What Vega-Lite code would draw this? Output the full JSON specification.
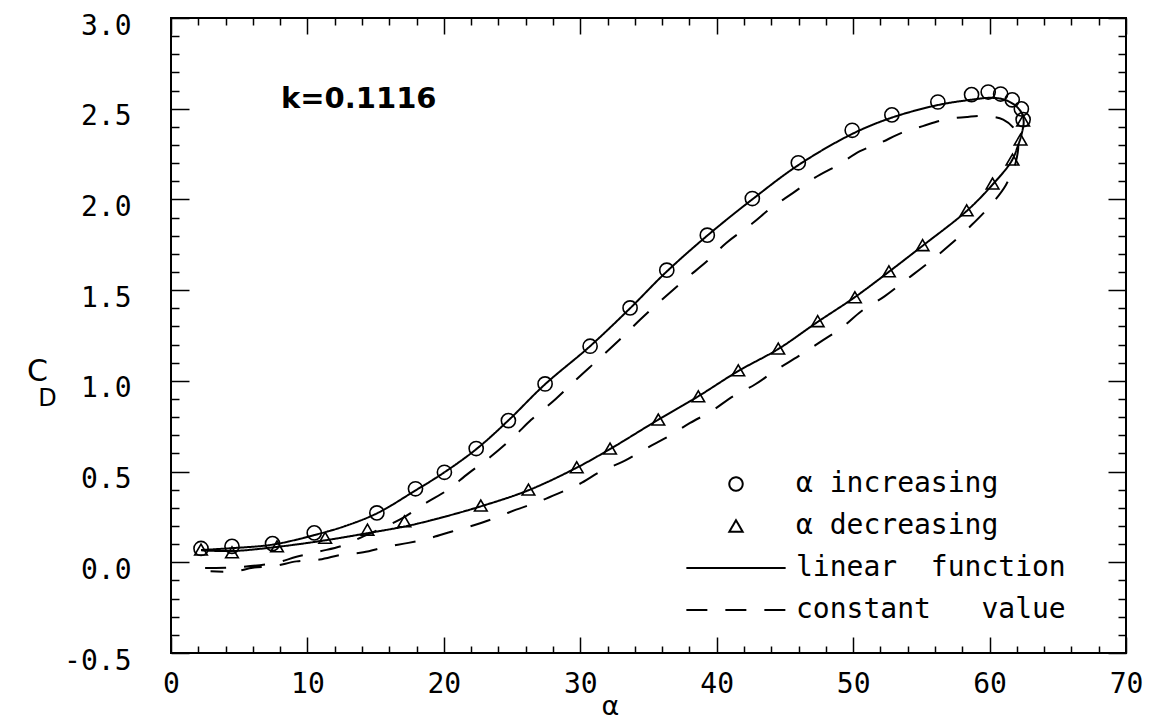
{
  "$schema": "https://vega.github.io/schema/vega-lite/v6.json",
  "width": 955,
  "height": 635,
  "autosize": {"type": "none"},
  "padding": {"left": 171, "top": 18, "right": 41, "bottom": 67},
  "background": "white",
  "config": {
    "view": {"stroke": "black", "strokeWidth": 2},
    "font": "DejaVu Sans",
    "axis": {"grid": false, "domain": false, "labelColor": "black", "titleColor": "black", "tickColor": "black"}
  },
  "title": {
    "text": "k=0.1116",
    "anchor": "start",
    "frame": "group",
    "orient": "top",
    "offset": 0,
    "baseline": "middle",
    "dx": 110,
    "dy": 116,
    "fontSize": 29,
    "fontWeight": "bold",
    "font": "DejaVu Sans",
    "color": "black"
  },
  "datasets": {
    "pts": [
      {"series": "α increasing", "alpha": 2.2, "cd": 0.076},
      {"series": "α increasing", "alpha": 4.47, "cd": 0.088},
      {"series": "α increasing", "alpha": 7.44, "cd": 0.103},
      {"series": "α increasing", "alpha": 10.5, "cd": 0.162},
      {"series": "α increasing", "alpha": 15.09, "cd": 0.272},
      {"series": "α increasing", "alpha": 17.92, "cd": 0.405},
      {"series": "α increasing", "alpha": 20.04, "cd": 0.496},
      {"series": "α increasing", "alpha": 22.37, "cd": 0.627},
      {"series": "α increasing", "alpha": 24.73, "cd": 0.781},
      {"series": "α increasing", "alpha": 27.42, "cd": 0.983},
      {"series": "α increasing", "alpha": 30.72, "cd": 1.191},
      {"series": "α increasing", "alpha": 33.65, "cd": 1.402},
      {"series": "α increasing", "alpha": 36.34, "cd": 1.61},
      {"series": "α increasing", "alpha": 39.31, "cd": 1.803},
      {"series": "α increasing", "alpha": 42.61, "cd": 2.005},
      {"series": "α increasing", "alpha": 45.98, "cd": 2.202},
      {"series": "α increasing", "alpha": 49.93, "cd": 2.381},
      {"series": "α increasing", "alpha": 52.84, "cd": 2.466},
      {"series": "α increasing", "alpha": 56.21, "cd": 2.537},
      {"series": "α increasing", "alpha": 58.68, "cd": 2.578},
      {"series": "α increasing", "alpha": 59.9, "cd": 2.592},
      {"series": "α increasing", "alpha": 60.81, "cd": 2.581},
      {"series": "α increasing", "alpha": 61.66, "cd": 2.549},
      {"series": "α increasing", "alpha": 62.33, "cd": 2.499},
      {"series": "α increasing", "alpha": 62.46, "cd": 2.44},
      {"series": "α decreasing", "alpha": 2.2, "cd": 0.07},
      {"series": "α decreasing", "alpha": 4.47, "cd": 0.055},
      {"series": "α decreasing", "alpha": 7.77, "cd": 0.088},
      {"series": "α decreasing", "alpha": 11.3, "cd": 0.135},
      {"series": "α decreasing", "alpha": 14.4, "cd": 0.18},
      {"series": "α decreasing", "alpha": 17.11, "cd": 0.226},
      {"series": "α decreasing", "alpha": 22.71, "cd": 0.313},
      {"series": "α decreasing", "alpha": 26.2, "cd": 0.401},
      {"series": "α decreasing", "alpha": 29.74, "cd": 0.524},
      {"series": "α decreasing", "alpha": 32.18, "cd": 0.627},
      {"series": "α decreasing", "alpha": 35.72, "cd": 0.787},
      {"series": "α decreasing", "alpha": 38.65, "cd": 0.915},
      {"series": "α decreasing", "alpha": 41.58, "cd": 1.058},
      {"series": "α decreasing", "alpha": 44.51, "cd": 1.178},
      {"series": "α decreasing", "alpha": 47.4, "cd": 1.329},
      {"series": "α decreasing", "alpha": 50.13, "cd": 1.461},
      {"series": "α decreasing", "alpha": 52.62, "cd": 1.604},
      {"series": "α decreasing", "alpha": 55.09, "cd": 1.748},
      {"series": "α decreasing", "alpha": 58.32, "cd": 1.94},
      {"series": "α decreasing", "alpha": 60.22, "cd": 2.088},
      {"series": "α decreasing", "alpha": 61.68, "cd": 2.22},
      {"series": "α decreasing", "alpha": 62.27, "cd": 2.33},
      {"series": "α decreasing", "alpha": 62.46, "cd": 2.435}
    ],
    "curves": [
      {"series": "linear\u00a0\u00a0function", "i": 1, "alpha": 2.2, "cd": 0.068},
      {"series": "linear\u00a0\u00a0function", "i": 2, "alpha": 4.5, "cd": 0.078},
      {"series": "linear\u00a0\u00a0function", "i": 3, "alpha": 7.5, "cd": 0.098},
      {"series": "linear\u00a0\u00a0function", "i": 4, "alpha": 10.5, "cd": 0.15},
      {"series": "linear\u00a0\u00a0function", "i": 5, "alpha": 12.7, "cd": 0.198},
      {"series": "linear\u00a0\u00a0function", "i": 6, "alpha": 15.1, "cd": 0.27},
      {"series": "linear\u00a0\u00a0function", "i": 7, "alpha": 17.9, "cd": 0.395},
      {"series": "linear\u00a0\u00a0function", "i": 8, "alpha": 20.0, "cd": 0.494},
      {"series": "linear\u00a0\u00a0function", "i": 9, "alpha": 22.4, "cd": 0.625},
      {"series": "linear\u00a0\u00a0function", "i": 10, "alpha": 24.7, "cd": 0.78},
      {"series": "linear\u00a0\u00a0function", "i": 11, "alpha": 27.4, "cd": 0.98},
      {"series": "linear\u00a0\u00a0function", "i": 12, "alpha": 30.7, "cd": 1.19},
      {"series": "linear\u00a0\u00a0function", "i": 13, "alpha": 33.65, "cd": 1.4},
      {"series": "linear\u00a0\u00a0function", "i": 14, "alpha": 36.3, "cd": 1.6},
      {"series": "linear\u00a0\u00a0function", "i": 15, "alpha": 39.3, "cd": 1.8},
      {"series": "linear\u00a0\u00a0function", "i": 16, "alpha": 42.6, "cd": 2.0},
      {"series": "linear\u00a0\u00a0function", "i": 17, "alpha": 46.0, "cd": 2.19},
      {"series": "linear\u00a0\u00a0function", "i": 18, "alpha": 49.9, "cd": 2.36},
      {"series": "linear\u00a0\u00a0function", "i": 19, "alpha": 52.8, "cd": 2.45},
      {"series": "linear\u00a0\u00a0function", "i": 20, "alpha": 56.2, "cd": 2.52},
      {"series": "linear\u00a0\u00a0function", "i": 21, "alpha": 58.7, "cd": 2.55},
      {"series": "linear\u00a0\u00a0function", "i": 22, "alpha": 60.0, "cd": 2.56},
      {"series": "linear\u00a0\u00a0function", "i": 23, "alpha": 61.0, "cd": 2.552},
      {"series": "linear\u00a0\u00a0function", "i": 24, "alpha": 61.85, "cd": 2.52},
      {"series": "linear\u00a0\u00a0function", "i": 25, "alpha": 62.35, "cd": 2.477},
      {"series": "linear\u00a0\u00a0function", "i": 26, "alpha": 62.5, "cd": 2.43},
      {"series": "linear\u00a0\u00a0function", "i": 27, "alpha": 62.35, "cd": 2.36},
      {"series": "linear\u00a0\u00a0function", "i": 28, "alpha": 62.1, "cd": 2.3},
      {"series": "linear\u00a0\u00a0function", "i": 29, "alpha": 61.6, "cd": 2.21},
      {"series": "linear\u00a0\u00a0function", "i": 30, "alpha": 60.2, "cd": 2.08},
      {"series": "linear\u00a0\u00a0function", "i": 31, "alpha": 58.3, "cd": 1.935},
      {"series": "linear\u00a0\u00a0function", "i": 32, "alpha": 55.1, "cd": 1.745},
      {"series": "linear\u00a0\u00a0function", "i": 33, "alpha": 52.6, "cd": 1.6},
      {"series": "linear\u00a0\u00a0function", "i": 34, "alpha": 50.1, "cd": 1.46},
      {"series": "linear\u00a0\u00a0function", "i": 35, "alpha": 47.4, "cd": 1.325},
      {"series": "linear\u00a0\u00a0function", "i": 36, "alpha": 44.5, "cd": 1.175},
      {"series": "linear\u00a0\u00a0function", "i": 37, "alpha": 41.6, "cd": 1.055},
      {"series": "linear\u00a0\u00a0function", "i": 38, "alpha": 38.65, "cd": 0.915},
      {"series": "linear\u00a0\u00a0function", "i": 39, "alpha": 35.7, "cd": 0.785},
      {"series": "linear\u00a0\u00a0function", "i": 40, "alpha": 32.2, "cd": 0.625},
      {"series": "linear\u00a0\u00a0function", "i": 41, "alpha": 29.7, "cd": 0.52},
      {"series": "linear\u00a0\u00a0function", "i": 42, "alpha": 26.2, "cd": 0.397},
      {"series": "linear\u00a0\u00a0function", "i": 43, "alpha": 22.7, "cd": 0.308},
      {"series": "linear\u00a0\u00a0function", "i": 44, "alpha": 19.5, "cd": 0.24},
      {"series": "linear\u00a0\u00a0function", "i": 45, "alpha": 17.3, "cd": 0.2},
      {"series": "linear\u00a0\u00a0function", "i": 46, "alpha": 14.6, "cd": 0.163},
      {"series": "linear\u00a0\u00a0function", "i": 47, "alpha": 11.3, "cd": 0.121},
      {"series": "linear\u00a0\u00a0function", "i": 48, "alpha": 7.8, "cd": 0.085},
      {"series": "linear\u00a0\u00a0function", "i": 49, "alpha": 4.5, "cd": 0.062},
      {"series": "linear\u00a0\u00a0function", "i": 50, "alpha": 2.2, "cd": 0.066},
      {"series": "constant\u00a0\u00a0\u00a0value", "i": 1, "alpha": 2.5, "cd": -0.032},
      {"series": "constant\u00a0\u00a0\u00a0value", "i": 2, "alpha": 4.7, "cd": -0.028},
      {"series": "constant\u00a0\u00a0\u00a0value", "i": 3, "alpha": 7.6, "cd": -0.004},
      {"series": "constant\u00a0\u00a0\u00a0value", "i": 4, "alpha": 9.2, "cd": 0.03},
      {"series": "constant\u00a0\u00a0\u00a0value", "i": 5, "alpha": 10.9, "cd": 0.06},
      {"series": "constant\u00a0\u00a0\u00a0value", "i": 6, "alpha": 12.5, "cd": 0.09},
      {"series": "constant\u00a0\u00a0\u00a0value", "i": 7, "alpha": 14.1, "cd": 0.143},
      {"series": "constant\u00a0\u00a0\u00a0value", "i": 8, "alpha": 15.5, "cd": 0.19},
      {"series": "constant\u00a0\u00a0\u00a0value", "i": 9, "alpha": 17.0, "cd": 0.245},
      {"series": "constant\u00a0\u00a0\u00a0value", "i": 10, "alpha": 18.75, "cd": 0.33},
      {"series": "constant\u00a0\u00a0\u00a0value", "i": 11, "alpha": 20.2, "cd": 0.395},
      {"series": "constant\u00a0\u00a0\u00a0value", "i": 12, "alpha": 21.8, "cd": 0.49},
      {"series": "constant\u00a0\u00a0\u00a0value", "i": 13, "alpha": 23.4, "cd": 0.58},
      {"series": "constant\u00a0\u00a0\u00a0value", "i": 14, "alpha": 25.1, "cd": 0.69},
      {"series": "constant\u00a0\u00a0\u00a0value", "i": 15, "alpha": 26.4, "cd": 0.785},
      {"series": "constant\u00a0\u00a0\u00a0value", "i": 16, "alpha": 28.2, "cd": 0.9},
      {"series": "constant\u00a0\u00a0\u00a0value", "i": 17, "alpha": 29.6, "cd": 1.0},
      {"series": "constant\u00a0\u00a0\u00a0value", "i": 18, "alpha": 31.45, "cd": 1.127},
      {"series": "constant\u00a0\u00a0\u00a0value", "i": 19, "alpha": 32.9, "cd": 1.228},
      {"series": "constant\u00a0\u00a0\u00a0value", "i": 20, "alpha": 34.4, "cd": 1.338},
      {"series": "constant\u00a0\u00a0\u00a0value", "i": 21, "alpha": 36.0, "cd": 1.448},
      {"series": "constant\u00a0\u00a0\u00a0value", "i": 22, "alpha": 37.7, "cd": 1.56},
      {"series": "constant\u00a0\u00a0\u00a0value", "i": 23, "alpha": 39.3, "cd": 1.66},
      {"series": "constant\u00a0\u00a0\u00a0value", "i": 24, "alpha": 40.7, "cd": 1.76},
      {"series": "constant\u00a0\u00a0\u00a0value", "i": 25, "alpha": 42.6, "cd": 1.867},
      {"series": "constant\u00a0\u00a0\u00a0value", "i": 26, "alpha": 44.0, "cd": 1.954},
      {"series": "constant\u00a0\u00a0\u00a0value", "i": 27, "alpha": 45.6, "cd": 2.036},
      {"series": "constant\u00a0\u00a0\u00a0value", "i": 28, "alpha": 47.2, "cd": 2.12},
      {"series": "constant\u00a0\u00a0\u00a0value", "i": 29, "alpha": 48.9, "cd": 2.19},
      {"series": "constant\u00a0\u00a0\u00a0value", "i": 30, "alpha": 50.5, "cd": 2.266},
      {"series": "constant\u00a0\u00a0\u00a0value", "i": 31, "alpha": 52.0, "cd": 2.312},
      {"series": "constant\u00a0\u00a0\u00a0value", "i": 32, "alpha": 53.55, "cd": 2.367},
      {"series": "constant\u00a0\u00a0\u00a0value", "i": 33, "alpha": 55.1, "cd": 2.404},
      {"series": "constant\u00a0\u00a0\u00a0value", "i": 34, "alpha": 56.7, "cd": 2.44},
      {"series": "constant\u00a0\u00a0\u00a0value", "i": 35, "alpha": 58.4, "cd": 2.455},
      {"series": "constant\u00a0\u00a0\u00a0value", "i": 36, "alpha": 59.9, "cd": 2.459},
      {"series": "constant\u00a0\u00a0\u00a0value", "i": 37, "alpha": 61.0, "cd": 2.44},
      {"series": "constant\u00a0\u00a0\u00a0value", "i": 38, "alpha": 61.8, "cd": 2.39},
      {"series": "constant\u00a0\u00a0\u00a0value", "i": 39, "alpha": 62.1, "cd": 2.32},
      {"series": "constant\u00a0\u00a0\u00a0value", "i": 40, "alpha": 61.9, "cd": 2.2},
      {"series": "constant\u00a0\u00a0\u00a0value", "i": 41, "alpha": 61.2, "cd": 2.08},
      {"series": "constant\u00a0\u00a0\u00a0value", "i": 42, "alpha": 60.1, "cd": 1.97},
      {"series": "constant\u00a0\u00a0\u00a0value", "i": 43, "alpha": 58.7, "cd": 1.86},
      {"series": "constant\u00a0\u00a0\u00a0value", "i": 44, "alpha": 57.1, "cd": 1.75},
      {"series": "constant\u00a0\u00a0\u00a0value", "i": 45, "alpha": 55.5, "cd": 1.65},
      {"series": "constant\u00a0\u00a0\u00a0value", "i": 46, "alpha": 53.9, "cd": 1.558},
      {"series": "constant\u00a0\u00a0\u00a0value", "i": 47, "alpha": 52.3, "cd": 1.466},
      {"series": "constant\u00a0\u00a0\u00a0value", "i": 48, "alpha": 50.6, "cd": 1.384},
      {"series": "constant\u00a0\u00a0\u00a0value", "i": 49, "alpha": 49.2, "cd": 1.295},
      {"series": "constant\u00a0\u00a0\u00a0value", "i": 50, "alpha": 47.6, "cd": 1.215},
      {"series": "constant\u00a0\u00a0\u00a0value", "i": 51, "alpha": 46.0, "cd": 1.136},
      {"series": "constant\u00a0\u00a0\u00a0value", "i": 52, "alpha": 44.4, "cd": 1.062},
      {"series": "constant\u00a0\u00a0\u00a0value", "i": 53, "alpha": 42.8, "cd": 0.98},
      {"series": "constant\u00a0\u00a0\u00a0value", "i": 54, "alpha": 41.2, "cd": 0.915},
      {"series": "constant\u00a0\u00a0\u00a0value", "i": 55, "alpha": 39.6, "cd": 0.832},
      {"series": "constant\u00a0\u00a0\u00a0value", "i": 56, "alpha": 38.05, "cd": 0.768},
      {"series": "constant\u00a0\u00a0\u00a0value", "i": 57, "alpha": 36.5, "cd": 0.695},
      {"series": "constant\u00a0\u00a0\u00a0value", "i": 58, "alpha": 34.9, "cd": 0.63},
      {"series": "constant\u00a0\u00a0\u00a0value", "i": 59, "alpha": 33.2, "cd": 0.557},
      {"series": "constant\u00a0\u00a0\u00a0value", "i": 60, "alpha": 31.6, "cd": 0.505},
      {"series": "constant\u00a0\u00a0\u00a0value", "i": 61, "alpha": 29.9, "cd": 0.43},
      {"series": "constant\u00a0\u00a0\u00a0value", "i": 62, "alpha": 28.4, "cd": 0.38},
      {"series": "constant\u00a0\u00a0\u00a0value", "i": 63, "alpha": 26.8, "cd": 0.33},
      {"series": "constant\u00a0\u00a0\u00a0value", "i": 64, "alpha": 25.3, "cd": 0.29},
      {"series": "constant\u00a0\u00a0\u00a0value", "i": 65, "alpha": 23.6, "cd": 0.24},
      {"series": "constant\u00a0\u00a0\u00a0value", "i": 66, "alpha": 22.2, "cd": 0.204},
      {"series": "constant\u00a0\u00a0\u00a0value", "i": 67, "alpha": 20.6, "cd": 0.17},
      {"series": "constant\u00a0\u00a0\u00a0value", "i": 68, "alpha": 19.0, "cd": 0.134},
      {"series": "constant\u00a0\u00a0\u00a0value", "i": 69, "alpha": 17.4, "cd": 0.107},
      {"series": "constant\u00a0\u00a0\u00a0value", "i": 70, "alpha": 15.8, "cd": 0.085},
      {"series": "constant\u00a0\u00a0\u00a0value", "i": 71, "alpha": 14.1, "cd": 0.055},
      {"series": "constant\u00a0\u00a0\u00a0value", "i": 72, "alpha": 12.5, "cd": 0.042},
      {"series": "constant\u00a0\u00a0\u00a0value", "i": 73, "alpha": 10.9, "cd": 0.015},
      {"series": "constant\u00a0\u00a0\u00a0value", "i": 74, "alpha": 9.2, "cd": 0.005},
      {"series": "constant\u00a0\u00a0\u00a0value", "i": 75, "alpha": 7.6, "cd": -0.02},
      {"series": "constant\u00a0\u00a0\u00a0value", "i": 76, "alpha": 6.0, "cd": -0.03},
      {"series": "constant\u00a0\u00a0\u00a0value", "i": 77, "alpha": 4.7, "cd": -0.05},
      {"series": "constant\u00a0\u00a0\u00a0value", "i": 78, "alpha": 2.9, "cd": -0.05}
    ]
  },
  "resolve": {"axis": {"x": "independent", "y": "independent"}},
  "layer": [
    {
      "data": {"name": "curves"},
      "mark": {"type": "line", "color": "black", "strokeWidth": 2, "interpolate": "catmull-rom"},
      "encoding": {
        "x": {
          "field": "alpha", "type": "quantitative",
          "scale": {"domain": [0, 70], "nice": false, "zero": false},
          "axis": {
            "orient": "bottom", "values": [0, 10, 20, 30, 40, 50, 60, 70],
            "ticks": false, "labels": true, "labelFontSize": 28, "labelPadding": 17, "labelFlush": false,
            "labelFont": "DejaVu Sans Mono",
            "title": "α", "titleFontSize": 27, "titleFontWeight": "normal", "titleFont": "DejaVu Sans",
            "titleX": 439, "titleY": 53, "titleAlign": "center", "titleBaseline": "middle"
          }
        },
        "y": {
          "field": "cd", "type": "quantitative",
          "scale": {"domain": [-0.5, 3.0], "nice": false, "zero": false},
          "axis": {
            "orient": "left", "values": [-0.5, 0, 0.5, 1, 1.5, 2, 2.5, 3],
            "format": ".1f", "labelExpr": "replace(datum.label, '−', '-')",
            "ticks": false, "labelFontSize": 28, "labelPadding": 40, "labelFont": "DejaVu Sans Mono",
            "labelOffset": 8, "labelFlush": false,
            "title": "C", "titleAngle": 0, "titleFontSize": 30, "titleFontWeight": "normal", "titleFont": "DejaVu Sans",
            "titleX": -134, "titleY": 353, "titleAlign": "center", "titleBaseline": "middle"
          }
        },
        "order": {"field": "i", "type": "quantitative"},
        "strokeDash": {
          "field": "series", "type": "nominal",
          "scale": {
            "domain": ["α increasing", "α decreasing", "linear\u00a0\u00a0function", "constant\u00a0\u00a0\u00a0value"],
            "range": [[1, 0], [1, 0], [1, 0], [21, 18]]
          },
          "legend": {
            "orient": "none", "legendX": 551, "legendY": 452, "title": null,
            "labelFontSize": 28, "labelFont": "DejaVu Sans Mono", "labelColor": "black", "labelLimit": 500,
            "symbolSize": 180, "symbolStrokeWidth": 2, "symbolStrokeColor": "black",
            "labelOffset": 46, "rowPadding": 14, "padding": 0
          }
        }
      }
    },
    {
      "data": {"name": "pts"},
      "transform": [{"filter": "datum.series === 'α increasing'"}],
      "mark": {"type": "point", "filled": false, "color": "black", "strokeWidth": 1.6, "size": 200, "opacity": 1},
      "encoding": {
        "x": {
          "field": "alpha", "type": "quantitative",
          "axis": {
            "orient": "bottom", "values": [0,2,4,6,8,10,12,14,16,18,20,22,24,26,28,30,32,34,36,38,40,42,44,46,48,50,52,54,56,58,60,62,64,66,68,70],
            "labels": false, "title": null, "tickWidth": 1.5,
            "tickSize": {"condition": {"test": "datum.value % 10 === 0", "value": -16}, "value": -7}
          }
        },
        "y": {
          "field": "cd", "type": "quantitative",
          "axis": {
            "orient": "left", "values": [-0.5,-0.4,-0.3,-0.2,-0.1,0,0.1,0.2,0.3,0.4,0.5,0.6,0.7,0.8,0.9,1,1.1,1.2,1.3,1.4,1.5,1.6,1.7,1.8,1.9,2,2.1,2.2,2.3,2.4,2.5,2.6,2.7,2.8,2.9,3],
            "labels": false, "tickWidth": 1.5,
            "tickSize": {"condition": {"test": "abs(datum.value * 2 - round(datum.value * 2)) < 0.001", "value": -18}, "value": -8},
            "title": "D", "titleAngle": 0, "titleFontSize": 24, "titleFontWeight": "normal", "titleFont": "DejaVu Sans",
            "titleX": -124, "titleY": 380, "titleAlign": "center", "titleBaseline": "middle"
          }
        },
        "shape": {
          "field": "series", "type": "nominal",
          "scale": {
            "domain": ["α increasing", "α decreasing", "linear\u00a0\u00a0function", "constant\u00a0\u00a0\u00a0value"],
            "range": ["circle", "triangle-up", "M-7.4,0H7.4", "M-7.4,0H7.4"]
          },
          "legend": {
            "orient": "none", "legendX": 551, "legendY": 452, "title": null,
            "labelFontSize": 28, "labelFont": "DejaVu Sans Mono", "labelColor": "black", "labelLimit": 500,
            "symbolSize": 180, "symbolStrokeWidth": 2, "symbolStrokeColor": "black",
            "labelOffset": 46, "rowPadding": 14, "padding": 0
          }
        }
      }
    },
    {
      "data": {"name": "pts"},
      "transform": [{"filter": "datum.series === 'α decreasing'"}],
      "mark": {"type": "point", "filled": false, "color": "black", "strokeWidth": 1.6, "size": 160, "opacity": 1},
      "encoding": {
        "x": {
          "field": "alpha", "type": "quantitative",
          "axis": {
            "orient": "top", "values": [0,2,4,6,8,10,12,14,16,18,20,22,24,26,28,30,32,34,36,38,40,42,44,46,48,50,52,54,56,58,60,62,64,66,68,70],
            "labels": false, "title": null, "tickWidth": 1.5,
            "tickSize": {"condition": {"test": "datum.value % 10 === 0", "value": -16}, "value": -7}
          }
        },
        "y": {
          "field": "cd", "type": "quantitative",
          "axis": {
            "orient": "right", "values": [-0.5,-0.4,-0.3,-0.2,-0.1,0,0.1,0.2,0.3,0.4,0.5,0.6,0.7,0.8,0.9,1,1.1,1.2,1.3,1.4,1.5,1.6,1.7,1.8,1.9,2,2.1,2.2,2.3,2.4,2.5,2.6,2.7,2.8,2.9,3],
            "labels": false, "title": null, "tickWidth": 1.5,
            "tickSize": {"condition": {"test": "abs(datum.value * 2 - round(datum.value * 2)) < 0.001", "value": -18}, "value": -8}
          }
        },
        "shape": {
          "field": "series", "type": "nominal",
          "scale": {
            "domain": ["α increasing", "α decreasing", "linear\u00a0\u00a0function", "constant\u00a0\u00a0\u00a0value"],
            "range": ["circle", "triangle-up", "M-7.4,0H7.4", "M-7.4,0H7.4"]
          },
          "legend": {
            "orient": "none", "legendX": 551, "legendY": 452, "title": null,
            "labelFontSize": 28, "labelFont": "DejaVu Sans Mono", "labelColor": "black", "labelLimit": 500,
            "symbolSize": 180, "symbolStrokeWidth": 2, "symbolStrokeColor": "black",
            "labelOffset": 46, "rowPadding": 14, "padding": 0
          }
        }
      }
    }
  ]
}
